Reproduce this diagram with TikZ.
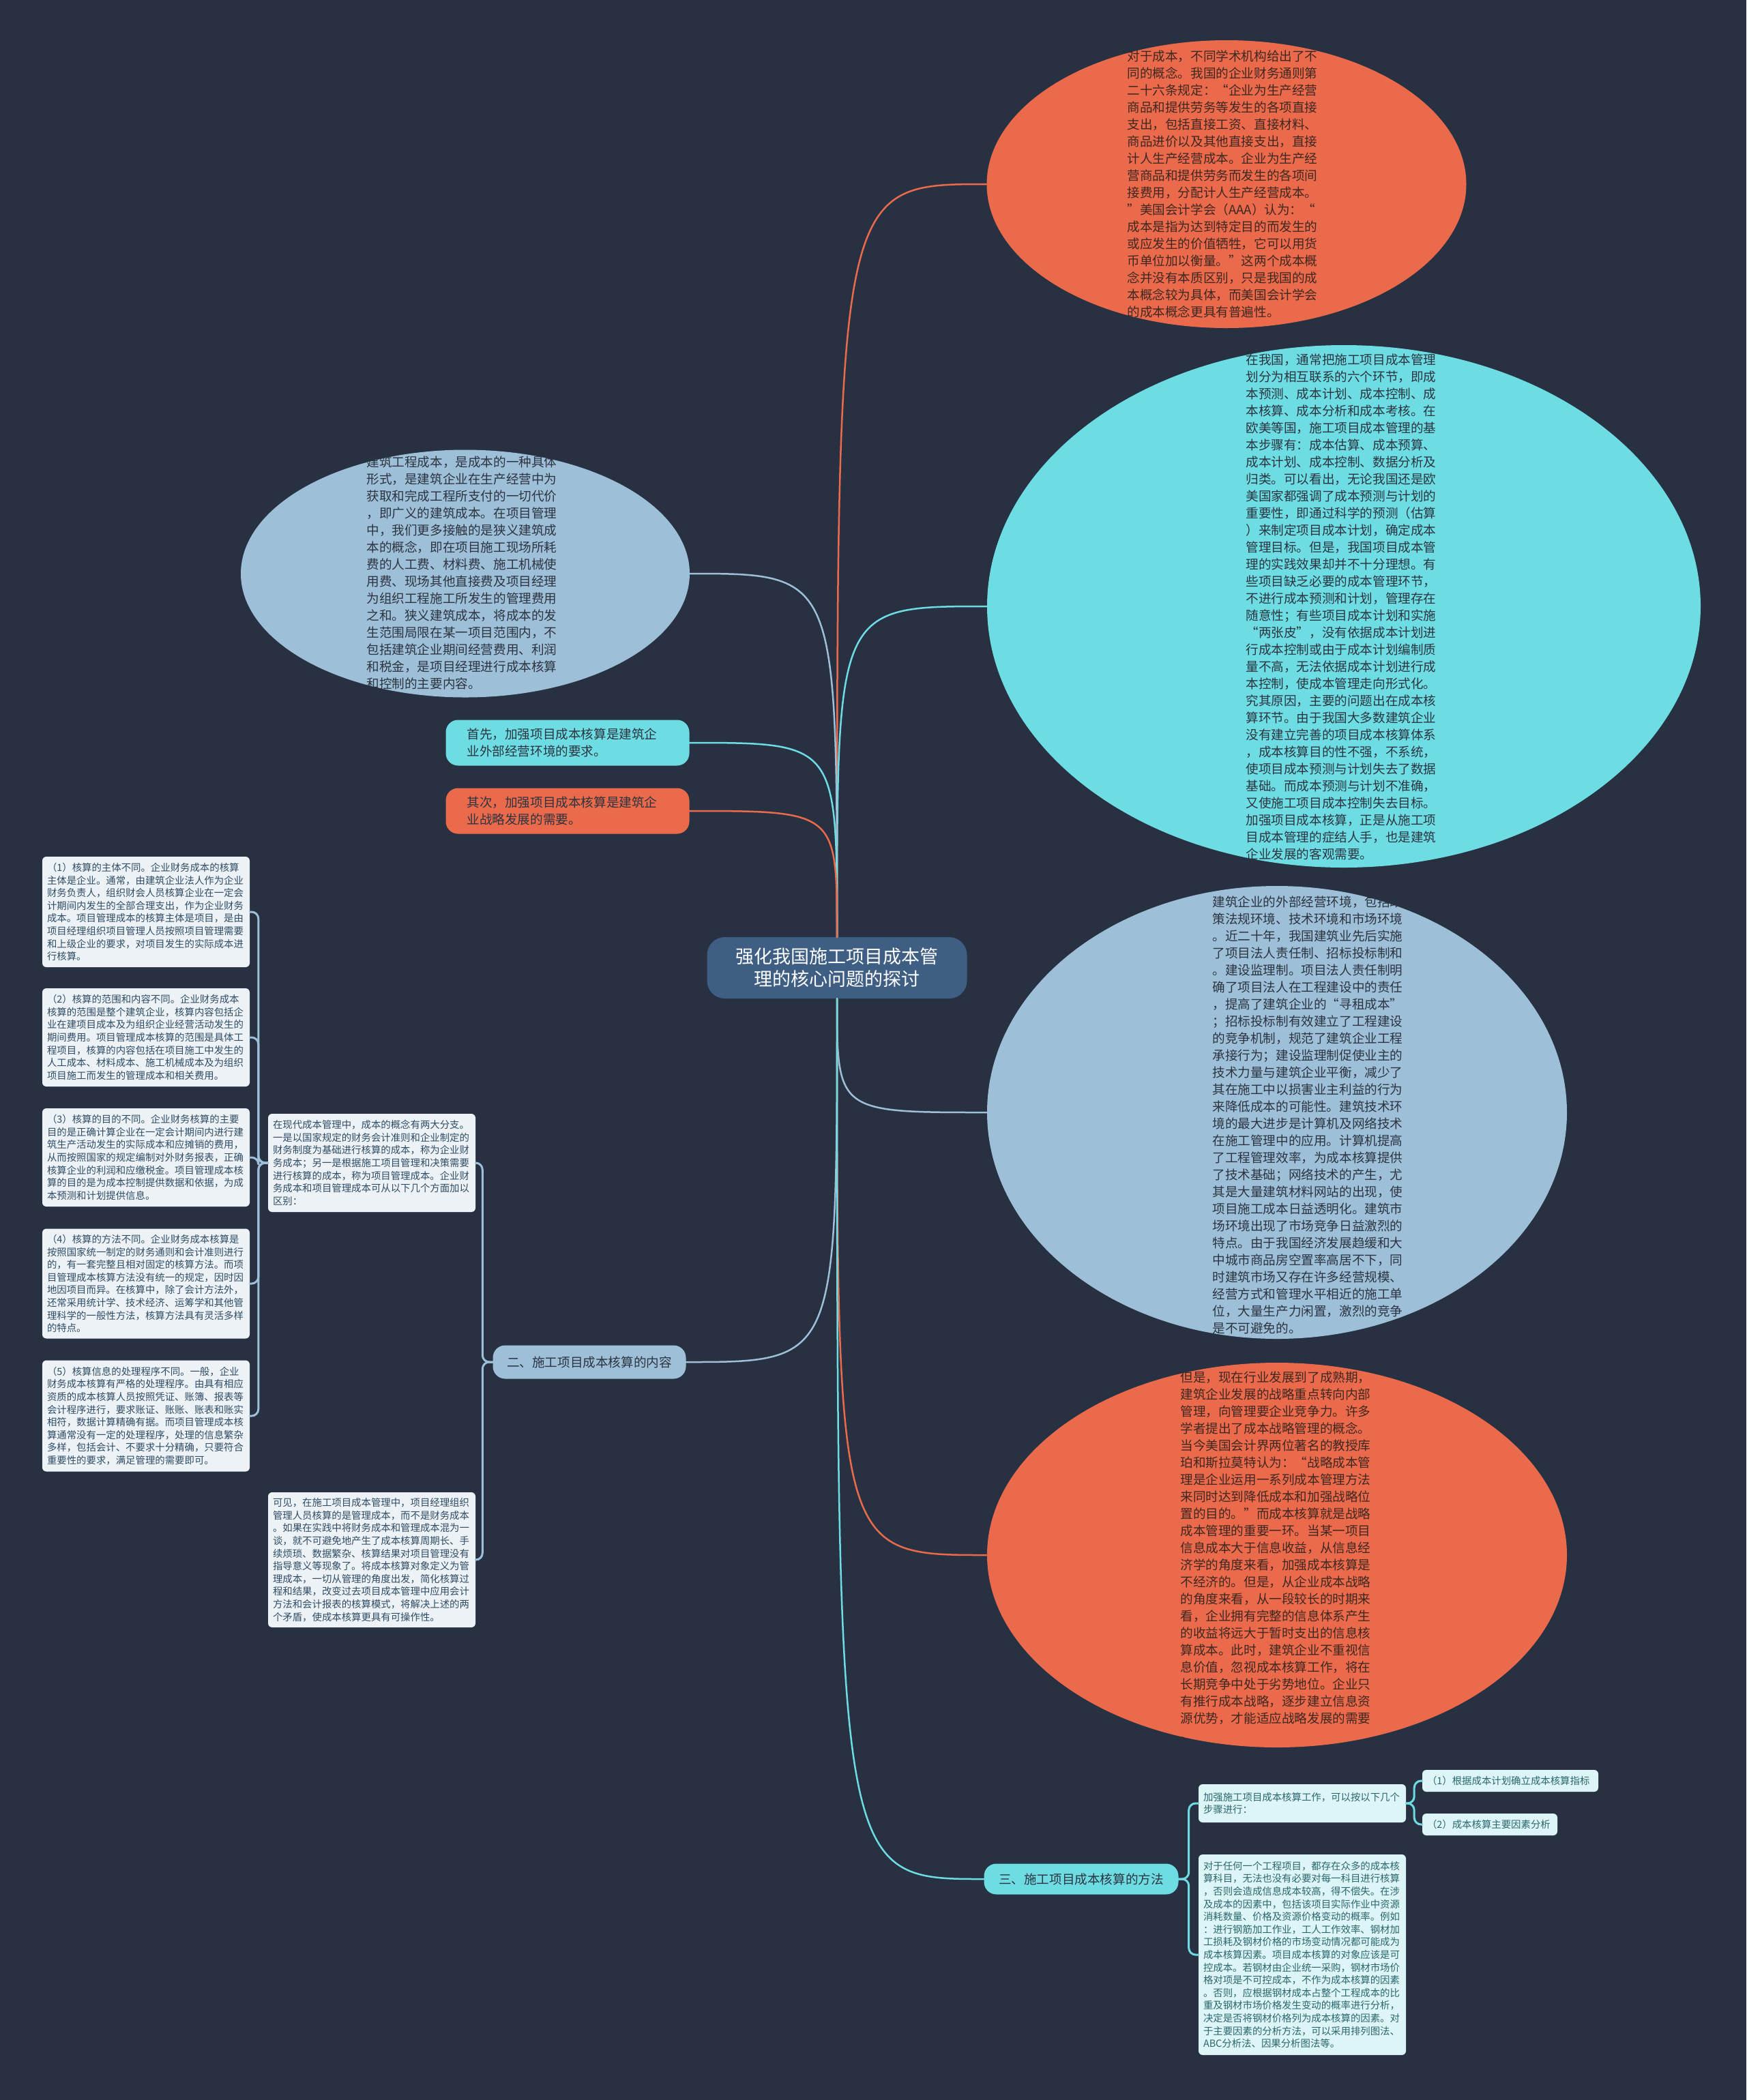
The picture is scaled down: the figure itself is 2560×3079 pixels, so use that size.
\documentclass[tikz,border=0pt]{standalone}
\usepackage{fontspec}
\setmainfont{Noto Sans CJK SC}
\usepackage{tikz}
\usetikzlibrary{shapes.geometric}

\definecolor{bgnavy}{HTML}{283142}
\definecolor{orng}{HTML}{EC6A4C}
\definecolor{cyn}{HTML}{6EDDE3}
\definecolor{stblue}{HTML}{9EBFD8}
\definecolor{ctrblue}{HTML}{3F5E84}
\definecolor{boxgray}{HTML}{EDF2F6}
\definecolor{boxcyan}{HTML}{DDF5F6}
\definecolor{darktxt}{HTML}{2B3440}
\definecolor{brntxt}{HTML}{3D2821}
\definecolor{graytxt}{HTML}{2F4C64}
\definecolor{tealtxt}{HTML}{2A666C}

\begin{document}
\begin{tikzpicture}[
  x=1pt, y=-1pt,
  line cap=round,
  line join=round,
  oval/.style={ellipse,inner sep=0pt},
  ovaltxt/.style={align=left,inner sep=0pt,font=\fontsize{18.6}{25}\selectfont},
  pill/.style={rounded corners=18pt,inner ysep=0pt,font=\fontsize{18.6}{25}\selectfont,text=darktxt},
  note/.style={rounded corners=6pt,fill=boxgray,text=graytxt,align=left,text width=290pt,inner xsep=7pt,inner ysep=0pt,font=\fontsize{14.4}{18.6}\selectfont},
  tealnote/.style={note,fill=boxcyan,text=tealtxt},
  branch/.style={line width=2.5pt},
  twig/.style={line width=3pt,rounded corners=10pt}
]

% background
\fill[bgnavy] (0,0) rectangle (2560,3079);
\useasboundingbox (0,0) rectangle (2560,3079);

% central topic
\node[fill=ctrblue,rounded corners=26pt,minimum width=381pt,minimum height=90pt,
  align=center,text=white,font=\fontsize{27}{33}\selectfont] (ctr) at (1227,1419)
  {强化我国施工项目成本管\\理的核心问题的探讨};

% right side ellipses
\node[oval,fill=orng,minimum width=703pt,minimum height=422pt] (topo) at (1798,270) {};
\node[ovaltxt,text=brntxt] (topotxt) at (1792,270) {对于成本，不同学术机构给出了不\\
同的概念。我国的企业财务通则第\\
二十六条规定：“企业为生产经营\\
商品和提供劳务等发生的各项直接\\
支出，包括直接工资、直接材料、\\
商品进价以及其他直接支出，直接\\
计人生产经营成本。企业为生产经\\
营商品和提供劳务而发生的各项间\\
接费用，分配计人生产经营成本。\\
”美国会计学会（AAA）认为：“\\
成本是指为达到特定目的而发生的\\
或应发生的价值牺牲，它可以用货\\
币单位加以衡量。”这两个成本概\\
念并没有本质区别，只是我国的成\\
本概念较为具体，而美国会计学会\\
的成本概念更具有普遍性。};

\node[oval,fill=cyn,minimum width=1046pt,minimum height=766pt] (cyano) at (1970,889) {};
\node[ovaltxt,text=darktxt] (cyanotxt) at (1966,890) {在我国，通常把施工项目成本管理\\
划分为相互联系的六个环节，即成\\
本预测、成本计划、成本控制、成\\
本核算、成本分析和成本考核。在\\
欧美等国，施工项目成本管理的基\\
本步骤有：成本估算、成本预算、\\
成本计划、成本控制、数据分析及\\
归类。可以看出，无论我国还是欧\\
美国家都强调了成本预测与计划的\\
重要性，即通过科学的预测（估算\\
）来制定项目成本计划，确定成本\\
管理目标。但是，我国项目成本管\\
理的实践效果却并不十分理想。有\\
些项目缺乏必要的成本管理环节，\\
不进行成本预测和计划，管理存在\\
随意性；有些项目成本计划和实施\\
“两张皮”，没有依据成本计划进\\
行成本控制或由于成本计划编制质\\
量不高，无法依据成本计划进行成\\
本控制，使成本管理走向形式化。\\
究其原因，主要的问题出在成本核\\
算环节。由于我国大多数建筑企业\\
没有建立完善的项目成本核算体系\\
，成本核算目的性不强，不系统，\\
使项目成本预测与计划失去了数据\\
基础。而成本预测与计划不准确，\\
又使施工项目成本控制失去目标。\\
加强项目成本核算，正是从施工项\\
目成本管理的症结人手，也是建筑\\
企业发展的客观需要。};

\node[oval,fill=stblue,minimum width=850pt,minimum height=664pt] (grayo) at (1872,1631) {};
\node[ovaltxt,text=darktxt] (grayotxt) at (1917,1635) {建筑企业的外部经营环境，包括政\\
策法规环境、技术环境和市场环境\\
。近二十年，我国建筑业先后实施\\
了项目法人责任制、招标投标制和\\
。建设监理制。项目法人责任制明\\
确了项目法人在工程建设中的责任\\
，提高了建筑企业的“寻租成本”\\
；招标投标制有效建立了工程建设\\
的竞争机制，规范了建筑企业工程\\
承接行为；建设监理制促使业主的\\
技术力量与建筑企业平衡，减少了\\
其在施工中以损害业主利益的行为\\
来降低成本的可能性。建筑技术环\\
境的最大进步是计算机及网络技术\\
在施工管理中的应用。计算机提高\\
了工程管理效率，为成本核算提供\\
了技术基础；网络技术的产生，尤\\
其是大量建筑材料网站的出现，使\\
项目施工成本日益透明化。建筑市\\
场环境出现了市场竞争日益激烈的\\
特点。由于我国经济发展趋缓和大\\
中城市商品房空置率高居不下，同\\
时建筑市场又存在许多经营规模、\\
经营方式和管理水平相近的施工单\\
位，大量生产力闲置，激烈的竞争\\
是不可避免的。};

\node[oval,fill=orng,minimum width=850pt,minimum height=564pt] (boto) at (1872,2280) {};
\node[ovaltxt,text=brntxt] (bototxt) at (1870,2282) {但是，现在行业发展到了成熟期，\\
建筑企业发展的战略重点转向内部\\
管理，向管理要企业竞争力。许多\\
学者提出了成本战略管理的概念。\\
当今美国会计界两位著名的教授库\\
珀和斯拉莫特认为：“战略成本管\\
理是企业运用一系列成本管理方法\\
来同时达到降低成本和加强战略位\\
置的目的。”而成本核算就是战略\\
成本管理的重要一环。当某一项目\\
信息成本大于信息收益，从信息经\\
济学的角度来看，加强成本核算是\\
不经济的。但是，从企业成本战略\\
的角度来看，从一段较长的时期来\\
看，企业拥有完整的信息体系产生\\
的收益将远大于暂时支出的信息核\\
算成本。此时，建筑企业不重视信\\
息价值，忽视成本核算工作，将在\\
长期竞争中处于劣势地位。企业只\\
有推行成本战略，逐步建立信息资\\
源优势，才能适应战略发展的需要\\
。};

% left side
\node[oval,fill=stblue,minimum width=658pt,minimum height=363pt] (bluel) at (682,841) {};
\node[ovaltxt,text=darktxt] (blueltxt) at (677,840) {建筑工程成本，是成本的一种具体\\
形式，是建筑企业在生产经营中为\\
获取和完成工程所支付的一切代价\\
，即广义的建筑成本。在项目管理\\
中，我们更多接触的是狭义建筑成\\
本的概念，即在项目施工现场所耗\\
费的人工费、材料费、施工机械使\\
用费、现场其他直接费及项目经理\\
为组织工程施工所发生的管理费用\\
之和。狭义建筑成本，将成本的发\\
生范围局限在某一项目范围内，不\\
包括建筑企业期间经营费用、利润\\
和税金，是项目经理进行成本核算\\
和控制的主要内容。};

\node[pill,fill=cyn,minimum height=67pt,text width=295pt,inner xsep=31pt,align=left] (first) at (832,1089)
  {首先，加强项目成本核算是建筑企\\业外部经营环境的要求。};
\node[pill,fill=orng,minimum height=67pt,text width=295pt,inner xsep=31pt,align=left] (second) at (832,1189)
  {其次，加强项目成本核算是建筑企\\业战略发展的需要。};

% 二、 subtree
\node[pill,fill=stblue,minimum width=283pt,minimum height=49pt] (er) at (864,1997) {二、施工项目成本核算的内容};

\node[note,minimum height=144pt] (boxa) at (545,1705) {在现代成本管理中，成本的概念有两大分支。\\
一是以国家规定的财务会计准则和企业制定的\\
财务制度为基础进行核算的成本，称为企业财\\
务成本；另一是根据施工项目管理和决策需要\\
进行核算的成本，称为项目管理成本。企业财\\
务成本和项目管理成本可从以下几个方面加以\\
区别：};
\node[note,minimum height=198pt] (boxb) at (545,2287) {可见，在施工项目成本管理中，项目经理组织\\
管理人员核算的是管理成本，而不是财务成本\\
。如果在实践中将财务成本和管理成本混为一\\
谈，就不可避免地产生了成本核算周期长、手\\
续烦琐、数据繁杂、核算结果对项目管理没有\\
指导意义等现象了。将成本核算对象定义为管\\
理成本，一切从管理的角度出发，简化核算过\\
程和结果，改变过去项目成本管理中应用会计\\
方法和会计报表的核算模式，将解决上述的两\\
个矛盾，使成本核算更具有可操作性。};

\node[note,minimum height=162pt] (c1) at (214,1337) {（1）核算的主体不同。企业财务成本的核算\\
主体是企业。通常，由建筑企业法人作为企业\\
财务负责人，组织财会人员核算企业在一定会\\
计期间内发生的全部合理支出，作为企业财务\\
成本。项目管理成本的核算主体是项目，是由\\
项目经理组织项目管理人员按照项目管理需要\\
和上级企业的要求，对项目发生的实际成本进\\
行核算。};
\node[note,minimum height=144pt] (c2) at (214,1521) {（2）核算的范围和内容不同。企业财务成本\\
核算的范围是整个建筑企业，核算内容包括企\\
业在建项目成本及为组织企业经营活动发生的\\
期间费用。项目管理成本核算的范围是具体工\\
程项目，核算的内容包括在项目施工中发生的\\
人工成本、材料成本、施工机械成本及为组织\\
项目施工而发生的管理成本和相关费用。};
\node[note,minimum height=144pt] (c3) at (214,1697) {（3）核算的目的不同。企业财务核算的主要\\
目的是正确计算企业在一定会计期间内进行建\\
筑生产活动发生的实际成本和应摊销的费用，\\
从而按照国家的规定编制对外财务报表，正确\\
核算企业的利润和应缴税金。项目管理成本核\\
算的目的是为成本控制提供数据和依据，为成\\
本预测和计划提供信息。};
\node[note,minimum height=161pt] (c4) at (214,1882) {（4）核算的方法不同。企业财务成本核算是\\
按照国家统一制定的财务通则和会计准则进行\\
的，有一套完整且相对固定的核算方法。而项\\
目管理成本核算方法没有统一的规定，因时因\\
地因项目而异。在核算中，除了会计方法外，\\
还常采用统计学、技术经济、运筹学和其他管\\
理科学的一般性方法，核算方法具有灵活多样\\
的特点。};
\node[note,minimum height=163pt] (c5) at (214,2076) {（5）核算信息的处理程序不同。一般，企业\\
财务成本核算有严格的处理程序。由具有相应\\
资质的成本核算人员按照凭证、账簿、报表等\\
会计程序进行，要求账证、账账、账表和账实\\
相符，数据计算精确有据。而项目管理成本核\\
算通常没有一定的处理程序，处理的信息繁杂\\
多样，包括会计、不要求十分精确，只要符合\\
重要性的要求，满足管理的需要即可。};

% 三、 subtree
\node[pill,fill=cyn,minimum width=285pt,minimum height=45pt] (san) at (1585,2755) {三、施工项目成本核算的方法};

\node[tealnote,minimum height=56pt] (jq) at (1909,2644) {加强施工项目成本核算工作，可以按以下几个\\步骤进行：};
\node[tealnote,text width=244pt,minimum height=32pt] (s1) at (2214,2611) {（1）根据成本计划确立成本核算指标};
\node[tealnote,text width=184pt,minimum height=32pt] (s2) at (2184,2675) {（2）成本核算主要因素分析};
\node[tealnote,minimum height=294pt] (fx) at (1909,2866) {对于任何一个工程项目，都存在众多的成本核\\
算科目，无法也没有必要对每一科目进行核算\\
，否则会造成信息成本较高，得不偿失。在涉\\
及成本的因素中，包括该项目实际作业中资源\\
消耗数量、价格及资源价格变动的概率。例如\\
：进行钢筋加工作业，工人工作效率、钢材加\\
工损耗及钢材价格的市场变动情况都可能成为\\
成本核算因素。项目成本核算的对象应该是可\\
控成本。若钢材由企业统一采购，钢材市场价\\
格对项是不可控成本，不作为成本核算的因素\\
。否则，应根据钢材成本占整个工程成本的比\\
重及钢材市场价格发生变动的概率进行分析，\\
决定是否将钢材价格列为成本核算的因素。对\\
于主要因素的分析方法，可以采用排列图法、\\
ABC分析法、因果分析图法等。};

% main branches
\draw[branch,orng] (ctr.north) .. controls (ctr.north |- topo.west) .. (topo.west);
\draw[branch,cyn] (ctr.north) .. controls (ctr.north |- cyano.west) .. (cyano.west);
\draw[branch,stblue] (ctr.north) .. controls (ctr.north |- bluel.east) .. (bluel.east);
\draw[branch,cyn] (ctr.north) .. controls (ctr.north |- first.east) .. (first.east);
\draw[branch,orng] (ctr.north) .. controls (ctr.north |- second.east) .. (second.east);
\draw[branch,stblue] (ctr.south) .. controls (ctr.south |- grayo.west) .. (grayo.west);
\draw[branch,orng] (ctr.south) .. controls (ctr.south |- boto.west) .. (boto.west);
\draw[branch,stblue] (ctr.south) .. controls (ctr.south |- er.east) .. (er.east);
\draw[branch,cyn] (ctr.south) .. controls (ctr.south |- san.west) .. (san.west);

% brackets
\draw[twig,stblue] (er.west) -- ++(-15,0) |- (boxa.east);
\draw[twig,stblue] (er.west) -- ++(-15,0) |- (boxb.east);
\foreach \c in {c1,c2,c3,c4,c5}
  \draw[twig,stblue] (boxa.west) -- ++(-14,0) |- (\c.east);
\draw[twig,cyn] (san.east) -- ++(15,0) |- (jq.west);
\draw[twig,cyn] (san.east) -- ++(15,0) |- (fx.west);
\draw[twig,cyn] (jq.east) -- ++(12,0) |- (s1.west);
\draw[twig,cyn] (jq.east) -- ++(12,0) |- (s2.west);

\end{tikzpicture}
\end{document}
